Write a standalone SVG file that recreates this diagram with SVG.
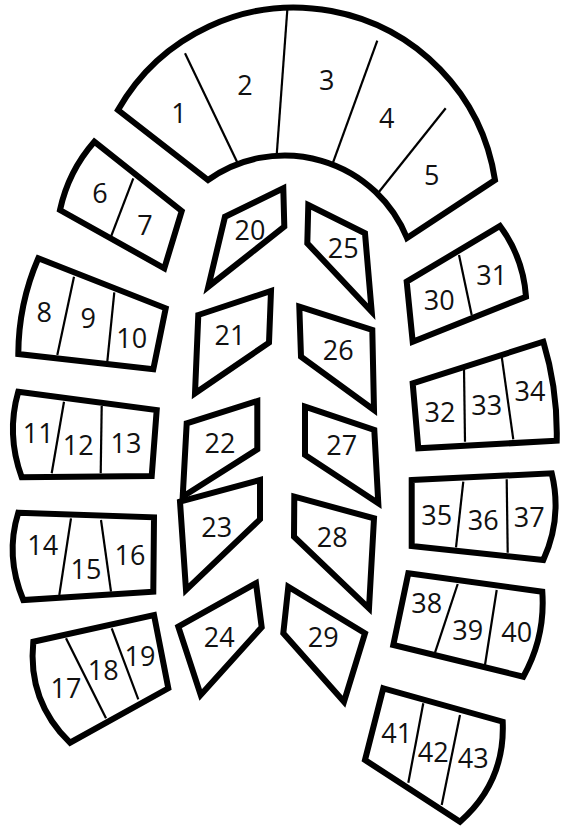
<svg xmlns="http://www.w3.org/2000/svg" width="565" height="827" viewBox="0 0 565 827">
  <style>
    .blk { fill: #fff; stroke: #000; stroke-width: 6; stroke-linejoin: miter; stroke-miterlimit: 10; }
    .div { stroke: #000; stroke-width: 2.2; fill: none; }
    text { font-family: "Open Sans", "Noto Sans", "DejaVu Sans", sans-serif; font-size: 27px; fill: #111; text-anchor: middle; }
  </style>
  <rect width="565" height="827" fill="#fff"/>

  <!-- curved top block: sections 1-5 -->
  <g id="block-1-5">
    <path class="blk" d="M118,110 A203,203 0 0 1 495,180 L407,238 A132,132 0 0 0 208,180 Z"/>
    <line class="div" x1="185" y1="53.3" x2="237.7" y2="163.3"/>
    <line class="div" x1="287.3" y1="10" x2="276.7" y2="155"/>
    <line class="div" x1="377.3" y1="40.7" x2="332.7" y2="163.3"/>
    <line class="div" x1="445.7" y1="108.3" x2="378.3" y2="192.7"/>
    <text x="179" y="123">1</text>
    <text x="245" y="95">2</text>
    <text x="326.7" y="90">3</text>
    <text x="386.7" y="128">4</text>
    <text x="431.7" y="185">5</text>
  </g>

  <!-- left outer blocks -->
  <g id="block-6-7">
    <path class="blk" d="M94.3,141.7 L181.7,211 L164.3,268.3 L60,210 Q68.3,171.4 94.3,141.7 Z"/>
    <line class="div" x1="133.3" y1="178.3" x2="111" y2="236.7"/>
    <text x="100" y="203.3">6</text>
    <text x="145" y="235">7</text>
  </g>
  <g id="block-8-10">
    <path class="blk" d="M38.3,258.3 L165.7,308.3 L153.3,369.3 L18.3,354 Q18.5,304 38.3,258.3 Z"/>
    <line class="div" x1="74" y1="276.7" x2="57.3" y2="355"/>
    <line class="div" x1="114.3" y1="292.3" x2="107.3" y2="361.7"/>
    <text x="44.3" y="321.7">8</text>
    <text x="88.3" y="328.3">9</text>
    <text x="131.7" y="348.3">10</text>
  </g>
  <g id="block-11-13">
    <path class="blk" d="M18.3,391.7 L156.7,410 L151.7,476 L21.7,477.3 Q6,434.5 18.3,391.7 Z"/>
    <line class="div" x1="64" y1="401.7" x2="51.7" y2="473.3"/>
    <line class="div" x1="101.7" y1="406" x2="100.7" y2="473.3"/>
    <text x="38.3" y="443.3">11</text>
    <text x="78.3" y="455">12</text>
    <text x="126" y="452.7">13</text>
  </g>
  <g id="block-14-16">
    <path class="blk" d="M18.3,512.7 L154,517.3 L153.3,591.7 L23.3,600 Q4.8,556 18.3,512.7 Z"/>
    <line class="div" x1="71" y1="518.3" x2="59.3" y2="595"/>
    <line class="div" x1="101" y1="520" x2="111" y2="591.7"/>
    <text x="42.7" y="555">14</text>
    <text x="86" y="579.3">15</text>
    <text x="130" y="565">16</text>
  </g>
  <g id="block-17-19">
    <path class="blk" d="M33.3,641.7 L154,615 L168.3,688.3 L70,742.7 Q27.3,701.1 33.3,641.7 Z"/>
    <line class="div" x1="66" y1="638.3" x2="106" y2="718.3"/>
    <line class="div" x1="111.7" y1="628.3" x2="138.3" y2="699.3"/>
    <text x="66" y="698.3">17</text>
    <text x="103.3" y="680">18</text>
    <text x="140" y="666">19</text>
  </g>

  <!-- centre left column -->
  <g id="block-20">
    <path class="blk" d="M225,216.7 L283.3,188.3 L284.3,226.7 L208.3,286.7 Z"/>
    <text x="250" y="240">20</text>
  </g>
  <g id="block-21">
    <path class="blk" d="M198.3,315 L271,291 L269,342.7 L195,393.3 Z"/>
    <text x="230" y="345">21</text>
  </g>
  <g id="block-22">
    <path class="blk" d="M186.7,423.3 L257.3,401 L257.3,449.3 L182.7,496.7 Z"/>
    <text x="220" y="453.3">22</text>
  </g>
  <g id="block-23">
    <path class="blk" d="M180,501.7 L260,480 L260,519.3 L186,590 Z"/>
    <text x="216.7" y="536.7">23</text>
  </g>
  <g id="block-24">
    <path class="blk" d="M178.3,626.7 L256,583.3 L261.7,627.3 L200.7,695 Z"/>
    <text x="219.3" y="646.7">24</text>
  </g>

  <!-- centre right column -->
  <g id="block-25">
    <path class="blk" d="M308.3,205 L365,233.3 L371.7,311.7 L307.3,243.3 Z"/>
    <text x="343.3" y="258.3">25</text>
  </g>
  <g id="block-26">
    <path class="blk" d="M299.3,306.7 L372.3,330 L374,410 L301,356.7 Z"/>
    <text x="338.3" y="360">26</text>
  </g>
  <g id="block-27">
    <path class="blk" d="M305,406.7 L374.3,430 L378.3,503.3 L305,455 Z"/>
    <text x="341.7" y="455">27</text>
  </g>
  <g id="block-28">
    <path class="blk" d="M294.3,496.7 L374,518.3 L369,608.3 L294,536.7 Z"/>
    <text x="332.3" y="546.7">28</text>
  </g>
  <g id="block-29">
    <path class="blk" d="M288.3,586.7 L365,633.3 L344,701.7 L283.3,633.3 Z"/>
    <text x="323.3" y="646.7">29</text>
  </g>

  <!-- right outer blocks -->
  <g id="block-30-31">
    <path class="blk" d="M406.7,281.7 L500,226 Q523.3,257.6 526,296.7 L412.7,341.7 Z"/>
    <line class="div" x1="459" y1="255" x2="471.7" y2="315"/>
    <text x="439.3" y="310">30</text>
    <text x="491.7" y="285">31</text>
  </g>
  <g id="block-32-34">
    <path class="blk" d="M412.7,383.3 L543.3,341.7 Q557.9,390.1 556.7,440.7 L418.3,448.3 Z"/>
    <line class="div" x1="464" y1="368.3" x2="465" y2="441.7"/>
    <line class="div" x1="501.7" y1="356.7" x2="513.3" y2="439.3"/>
    <text x="440" y="421.7">32</text>
    <text x="486.7" y="415">33</text>
    <text x="530" y="400.7">34</text>
  </g>
  <g id="block-35-37">
    <path class="blk" d="M411.7,480 L551.7,473.3 Q562.5,518 543.3,560 L411.7,546 Z"/>
    <line class="div" x1="463.3" y1="481.7" x2="456" y2="547.3"/>
    <line class="div" x1="506.7" y1="479.3" x2="507.7" y2="552.7"/>
    <text x="436.7" y="525">35</text>
    <text x="483.3" y="530">36</text>
    <text x="529.3" y="526.7">37</text>
  </g>
  <g id="block-38-40">
    <path class="blk" d="M408.3,573.3 L542.3,591.7 Q545.5,637 523.3,676.7 L393.3,645 Z"/>
    <line class="div" x1="457.7" y1="584" x2="435" y2="652.7"/>
    <line class="div" x1="496.7" y1="590" x2="485" y2="665"/>
    <text x="426.7" y="613.3">38</text>
    <text x="467.7" y="640">39</text>
    <text x="516.7" y="641.7">40</text>
  </g>
  <g id="block-41-43">
    <path class="blk" d="M383.3,688.3 L502.7,721.7 Q505.3,781.9 460,821.7 L365,760 Z"/>
    <line class="div" x1="423.3" y1="703.3" x2="408.3" y2="782.7"/>
    <line class="div" x1="460" y1="715" x2="441.7" y2="805"/>
    <text x="396.7" y="743.3">41</text>
    <text x="433.3" y="761.7">42</text>
    <text x="473.3" y="768.3">43</text>
  </g>
</svg>
